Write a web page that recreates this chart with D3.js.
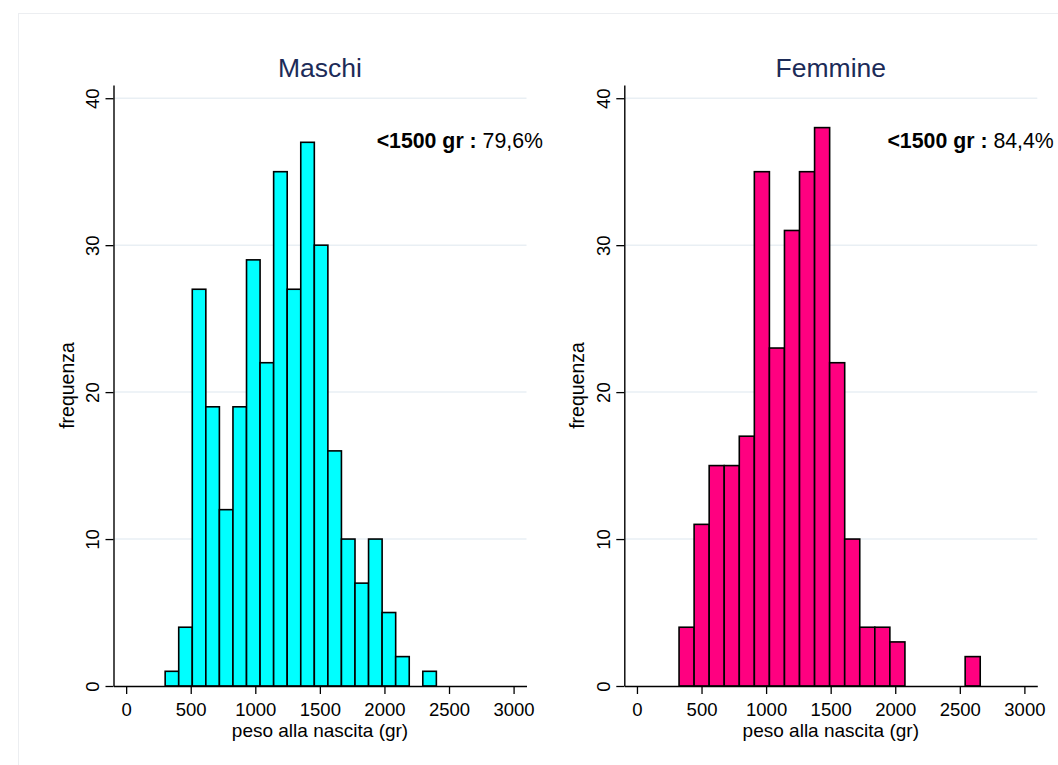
<!DOCTYPE html>
<html>
<head>
<meta charset="utf-8">
<script src="https://cdn.jsdelivr.net/npm/d3@7"></script>
<style>
  body { margin: 0; background: #fff; }
  svg { display: block; font-family: "Liberation Sans", Arial, sans-serif; }
</style>
</head>
<body>
<svg id="chart" width="1058" height="765"></svg>
<script>
// ---- data ----
const panelTitles = ["Maschi", "Femmine"];
const maleCounts = [1, 4, 27, 19, 12, 19, 29, 22, 35, 27, 37, 30, 16, 10, 7, 10, 5, 2, 0, 1];
const femaleCounts = [4, 11, 15, 15, 17, 35, 23, 31, 35, 38, 22, 10, 4, 4, 3, 0, 0, 0, 0, 2];
const maleBinStart = 302, maleBinWidth = 105;
const femaleBinStart = 326, femaleBinWidth = 116.6;
const xTicks = [0, 500, 1000, 1500, 2000, 2500, 3000];
const yTicks = [0, 10, 20, 30, 40];
const annotBold = "<1500 gr : ";
const maleShare = "79,6%";
const femaleShare = "84,4%";
const xLabel = "peso alla nascita (gr)";
const yLabel = "frequenza";

const svg = d3.select("#chart");

// faint outer frame
svg.append("rect").attr("x", 18.5).attr("y", 13.5).attr("width", 1100).attr("height", 800)
  .attr("fill", "none").attr("stroke", "#eceef1").attr("stroke-width", 1);

const panels = [
  { title: panelTitles[0], counts: maleCounts, start: maleBinStart, width: maleBinWidth, share: maleShare, fill: "#00ffff", x0: 113.5 },
  { title: panelTitles[1], counts: femaleCounts, start: femaleBinStart, width: femaleBinWidth, share: femaleShare, fill: "#ff0080", x0: 624.3 }
];

const plotW = 413;
const yTop = 85, yBot = 686;

panels.forEach(p => {
  const x = d3.scaleLinear().domain([-98, 3100]).range([p.x0, p.x0 + plotW]);
  const y = d3.scaleLinear().domain([0, 40.9]).range([yBot, yTop]);
  const g = svg.append("g");

  // gridlines
  g.selectAll("line.grid").data(yTicks.filter(t => t > 0)).join("line")
    .attr("class", "grid")
    .attr("x1", p.x0).attr("x2", p.x0 + plotW)
    .attr("y1", d => y(d)).attr("y2", d => y(d))
    .attr("stroke", "#e9eff4").attr("stroke-width", 1.5);

  // bars
  const bins = p.counts.map((c, i) => ({ c, x0: p.start + i * p.width, x1: p.start + (i + 1) * p.width }))
    .filter(b => b.c > 0);
  g.selectAll("rect.bar").data(bins).join("rect")
    .attr("class", "bar")
    .attr("x", d => x(d.x0)).attr("width", d => x(d.x1) - x(d.x0))
    .attr("y", d => y(d.c)).attr("height", d => y(0) - y(d.c))
    .attr("fill", p.fill).attr("stroke", "#000").attr("stroke-width", 1.6);

  // x axis
  const xa = g.append("g").attr("transform", `translate(0,${yBot})`)
    .call(d3.axisBottom(x).tickValues(xTicks).tickSize(8).tickSizeOuter(0).tickPadding(9).tickFormat(d3.format("d")));
  xa.select(".domain").attr("stroke", "#000").attr("stroke-width", 1.4);
  xa.selectAll(".tick line").attr("stroke", "#000").attr("stroke-width", 1.3);
  xa.selectAll(".tick text").attr("font-size", 18.5).attr("fill", "#000")
    .attr("font-family", "'Liberation Sans', Arial, sans-serif");

  // y axis
  const ya = g.append("g").attr("transform", `translate(${p.x0},0)`)
    .call(d3.axisLeft(y).tickValues(yTicks).tickSize(8).tickSizeOuter(0));
  ya.select(".domain").attr("stroke", "#000").attr("stroke-width", 1.4);
  ya.selectAll(".tick line").attr("stroke", "#000").attr("stroke-width", 1.3);
  ya.selectAll(".tick text")
    .attr("font-size", 18.5).attr("fill", "#000")
    .attr("font-family", "'Liberation Sans', Arial, sans-serif")
    .attr("transform", "rotate(-90)")
    .attr("x", 0).attr("y", -14.5).attr("dy", null)
    .attr("text-anchor", "middle");

  // axis titles
  g.append("text").attr("x", p.x0 + plotW / 2).attr("y", 737)
    .attr("text-anchor", "middle").attr("font-size", 19).attr("fill", "#000").text(xLabel);
  g.append("text").attr("transform", `translate(${p.x0 - 40},${(yTop + yBot) / 2}) rotate(-90)`)
    .attr("text-anchor", "middle").attr("font-size", 19.5).attr("fill", "#000").text(yLabel);

  // title
  g.append("text").attr("x", p.x0 + plotW / 2).attr("y", 77)
    .attr("text-anchor", "middle").attr("font-size", 26.5).attr("fill", "#1c2b58").text(p.title);

  // annotation
  const t = g.append("text").attr("x", p.x0 + plotW + 16.5).attr("y", 148)
    .attr("text-anchor", "end").attr("font-size", 21.3).attr("fill", "#000");
  t.append("tspan").attr("font-weight", "bold").text(annotBold);
  t.append("tspan").text(p.share);
});
</script>
</body>
</html>
